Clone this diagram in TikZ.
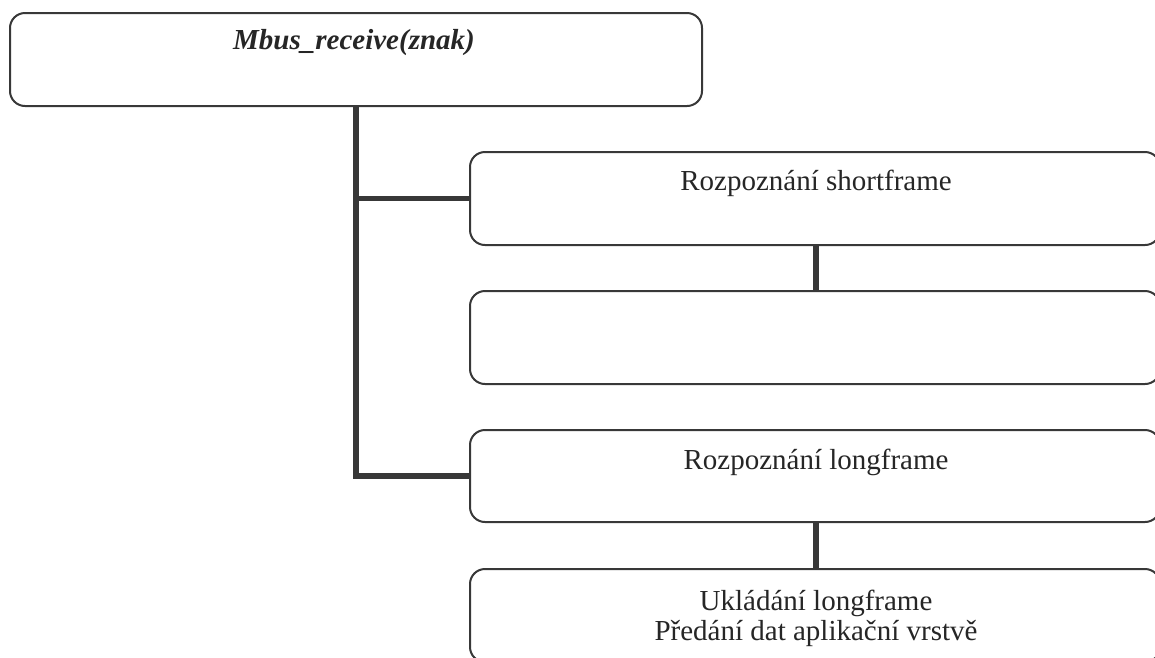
\documentclass[tikz,border=0pt]{standalone}
\usepackage{fontspec}
\setmainfont{Liberation Serif}
\definecolor{ink}{HTML}{383838}
\begin{document}
\begin{tikzpicture}[x=1pt,y=-1pt,
  box/.style={draw=ink, line width=2pt, rounded corners=15pt, rectangle,
    inner sep=0pt, minimum width=#1, fill=white},
  box/.default=690pt,
  txt/.style={anchor=base, font=\fontsize{29}{30}\selectfont, text=black!85, inner sep=0pt},
  link/.style={draw=ink, line width=5.5pt}]
\useasboundingbox (0,0) rectangle (1155,657);
\clip (0,0) rectangle (1155,657);

% boxes
\node[box=692pt, minimum height=93pt] (root) at (356,59.5) {};
\node[box, minimum height=93pt] (short) at (815,198.5) {};
\node[box, minimum height=93pt] (shortsub) at (815,337.5) {};
\node[box, minimum height=92pt] (long) at (815,476) {};
\node[box, minimum height=93pt] (longsub) at (815,615.5) {};

% texts
\node[txt, font=\fontsize{29}{30}\selectfont\bfseries\itshape] (troot) at (354,49) {Mbus\_receive(znak)};
\node[txt] (tshort) at (816,190) {Rozpoznání shortframe};
\node[txt] (tlong) at (816,469) {Rozpoznání longframe};
\node[txt] (tls1) at (816,610) {Ukládání longframe};
\node[txt] (tls2) at (816,640) {Předání dat aplikační vrstvě};

% connectors
\draw[link] (root.south) -- (root.south |- long.west) -- (long.west);
\draw[link] (root.south |- short.west) -- (short.west);
\draw[link] (short.south -| 816,0) -- (shortsub.north -| 816,0);
\draw[link] (long.south -| 816,0) -- (longsub.north -| 816,0);
\end{tikzpicture}
\end{document}
